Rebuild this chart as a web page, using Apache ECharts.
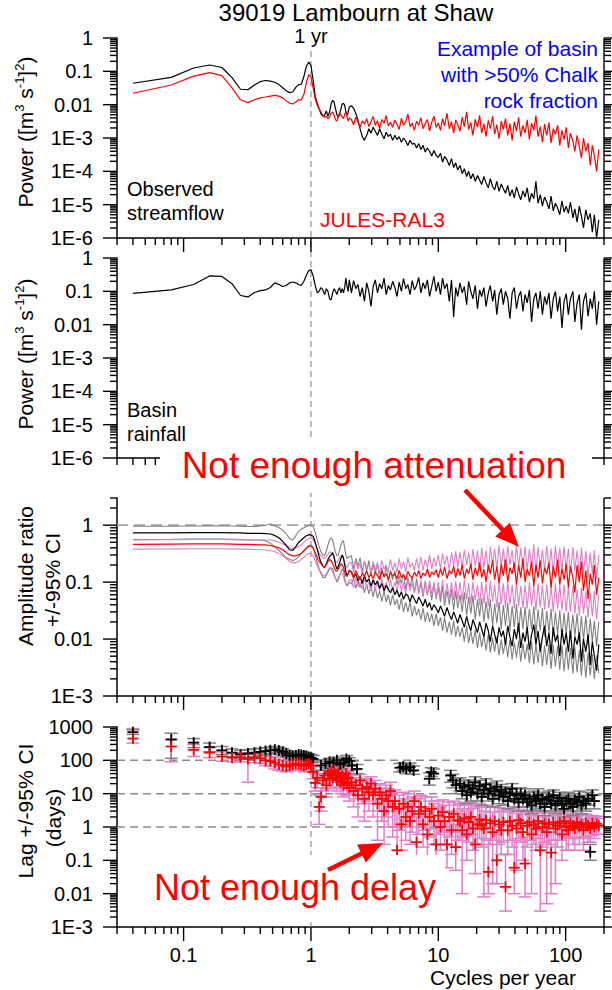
<!DOCTYPE html>
<html>
<head>
<meta charset="utf-8">
<script src="https://cdn.jsdelivr.net/npm/echarts@6/dist/echarts.min.js"></script>
<style>
  html, body { margin: 0; padding: 0; background: #fff; }
  #chart { width: 612px; height: 990px; }
</style>
</head>
<body>
<div id="chart"></div>
<script>
// ---------------------------------------------------------------------------
// Spectral data, 39019 Lambourn at Shaw (frequency in cycles per year)
// ---------------------------------------------------------------------------
const FREQ = [
  0.04, 0.08, 0.12, 0.16, 0.2, 0.24, 0.28, 0.32, 0.36, 0.4,
  0.44, 0.48, 0.52, 0.56, 0.6, 0.64, 0.68, 0.72, 0.76, 0.8,
  0.84, 0.88, 0.92, 0.96, 1.0, 1.04, 1.08, 1.12, 1.16, 1.2,
  1.24, 1.28, 1.32, 1.36, 1.4, 1.44, 1.48, 1.52, 1.56, 1.6,
  1.64, 1.68, 1.72, 1.76, 1.8, 1.84, 1.88, 1.92, 1.96, 2.0,
  2.08, 2.16, 2.25, 2.34, 2.43, 2.53, 2.63, 2.74, 2.85, 2.96,
  3.08, 3.2, 3.33, 3.46, 3.6, 3.75, 3.9, 4.05, 4.21, 4.38,
  4.56, 4.74, 4.93, 5.13, 5.33, 5.55, 5.77, 6.0, 6.24, 6.49,
  6.75, 7.02, 7.3, 7.59, 7.9, 8.21, 8.54, 8.88, 9.24, 9.61,
  10.0, 10.4, 10.8, 11.2, 11.7, 12.2, 12.7, 13.2, 13.7, 14.2,
  14.8, 15.4, 16.0, 16.7, 17.3, 18.0, 18.7, 19.5, 20.3, 21.1,
  21.9, 22.8, 23.7, 24.7, 25.6, 26.7, 27.7, 28.8, 30.0, 31.2,
  32.4, 33.7, 35.1, 36.5, 38.0, 39.5, 41.1, 42.7, 44.4, 46.2,
  48.0, 49.9, 51.9, 54.0, 56.2, 58.4, 60.7, 63.2, 65.7, 68.3,
  71.0, 73.9, 76.8, 79.9, 83.1, 86.4, 89.9, 93.5, 97.2, 101,
  105, 109, 114, 118, 123, 128, 133, 138, 144, 150,
  156, 162, 168, 175, 182
];

// Power of observed streamflow
const OBS_POWER = [
  0.044, 0.066, 0.126, 0.155, 0.13, 0.065, 0.029, 0.028, 0.039, 0.049,
  0.053, 0.051, 0.047, 0.04, 0.032, 0.026, 0.023, 0.024, 0.033, 0.04,
  0.041, 0.07, 0.14, 0.19, 0.15, 0.055, 0.018, 0.011, 0.0075, 0.0052,
  0.0045, 0.0048, 0.0065, 0.0045, 0.006, 0.0105, 0.0135, 0.012, 0.0075, 0.005,
  0.0042, 0.0055, 0.0075, 0.0105, 0.011, 0.0095, 0.0062, 0.0048, 0.006, 0.0085,
  0.0092, 0.0078, 0.0055, 0.0034, 0.0019, 0.0011, 0.00085, 0.0012, 0.0019, 0.0014,
  0.0021, 0.0016, 0.0012, 0.0019, 0.0013, 0.00095, 0.0015, 0.0011, 0.0013, 0.00085,
  0.0012, 0.0009, 0.0011, 0.00075, 0.001, 0.0008, 0.0006, 0.00085, 0.00065, 0.0007,
  0.0005, 0.00068, 0.00045, 0.0006, 0.00038, 0.0005, 0.0004, 0.00029, 0.00042, 0.0003,
  2.6e-4, 3.5e-4, 1.9e-4, 2.8e-4, 2.2e-4, 1.5e-4, 2.4e-4, 1.3e-4, 1.8e-4, 1.1e-4,
  1.5e-4, 8.5e-5, 1.2e-4, 7e-5, 1e-4, 6e-5, 8.5e-5, 5e-5, 7.5e-5, 5.5e-5,
  4e-5, 7e-5, 4.5e-5, 3.2e-5, 6e-5, 3.5e-5, 2.8e-5, 5e-5, 2.5e-5, 4.2e-5,
  3e-5, 2.2e-5, 3.8e-5, 1.8e-5, 2.8e-5, 1.6e-5, 3.4e-5, 2.1e-5, 1.4e-5, 2.6e-5,
  1.7e-5, 3.2e-5, 1.2e-5, 2.2e-5, 1.5e-5, 5e-5, 1.1e-5, 2e-5, 9e-6, 1.7e-5,
  1.2e-5, 7.5e-6, 1.8e-5, 6.5e-6, 1.1e-5, 8e-6, 5e-6, 1.3e-5, 6e-6, 9e-6,
  5.5e-6, 1.2e-5, 4e-6, 7.5e-6, 3e-6, 9e-6, 4.5e-6, 2e-6, 7e-6, 3.5e-6,
  5.5e-6, 1.5e-6, 5e-6, 1e-6, 3.5e-6
];

// Power of JULES-RAL3 simulated streamflow
const SIM_POWER = [
  0.022, 0.039, 0.072, 0.091, 0.074, 0.032, 0.014, 0.0115, 0.014, 0.016,
  0.017, 0.018, 0.019, 0.018, 0.016, 0.013, 0.011, 0.0105, 0.012, 0.014,
  0.014, 0.02, 0.045, 0.08, 0.068, 0.032, 0.015, 0.0095, 0.0075, 0.006,
  0.0048, 0.0042, 0.0045, 0.0038, 0.0042, 0.0055, 0.006, 0.0048, 0.0035, 0.0032,
  0.0045, 0.0058, 0.005, 0.0042, 0.0038, 0.0052, 0.006, 0.0045, 0.0032, 0.004,
  0.0036, 0.0025, 0.0042, 0.003, 0.0021, 0.0033, 0.0026, 0.0038, 0.0022, 0.0031,
  0.0044, 0.0024, 0.0033, 0.0019, 0.0036, 0.0028, 0.0047, 0.0023, 0.003, 0.0021,
  0.0034, 0.0026, 0.0018, 0.0039, 0.0024, 0.0031, 0.0052, 0.0022, 0.0028, 0.0017,
  0.0032, 0.0024, 0.0041, 0.0019, 0.0027, 0.0036, 0.0016, 0.003, 0.0045, 0.0021,
  0.0028, 0.0017, 0.0038, 0.0023, 0.0055, 0.0019, 0.0031, 0.0014, 0.0035, 0.0025,
  0.0016, 0.0042, 0.0022, 0.0061, 0.0018, 0.0029, 0.0012, 0.0036, 0.0021, 0.0048,
  0.0014, 0.0027, 0.0011, 0.0034, 0.0019, 0.0045, 0.0013, 0.0025, 0.00095, 0.0032,
  0.0018, 0.0038, 0.0012, 0.0027, 0.00085, 0.0031, 0.0016, 0.0042, 0.0011, 0.0024,
  0.0014, 0.0035, 0.0009, 0.0028, 0.0017, 0.0047, 0.0011, 0.0022, 0.00075, 0.0026,
  0.0012, 0.0029, 0.0007, 0.0019, 0.0013, 0.0024, 0.0006, 0.0017, 0.0009, 0.0021,
  0.0005, 0.0014, 0.0008, 0.0004, 0.0012, 0.00055, 0.00025, 0.001, 0.0004, 0.0007,
  0.00015, 0.0006, 0.0003, 0.0001, 0.00045
];

// Power of basin rainfall
const RAIN_POWER = [
  0.087, 0.11, 0.16, 0.29, 0.28, 0.17, 0.075, 0.068, 0.092, 0.105,
  0.11, 0.13, 0.18, 0.16, 0.14, 0.15, 0.18, 0.19, 0.18, 0.16,
  0.15, 0.2, 0.3, 0.42, 0.44, 0.3, 0.15, 0.09, 0.1, 0.13,
  0.11, 0.08, 0.12, 0.1, 0.06, 0.055, 0.09, 0.12, 0.1, 0.08,
  0.11, 0.13, 0.09, 0.12, 0.09, 0.13, 0.25, 0.14, 0.1, 0.22,
  0.09, 0.21, 0.12, 0.16, 0.07, 0.13, 0.05, 0.18, 0.1, 0.035,
  0.14, 0.22, 0.09, 0.17, 0.12, 0.25, 0.08, 0.15, 0.11, 0.2,
  0.13, 0.07, 0.19, 0.1, 0.24, 0.12, 0.16, 0.08, 0.21, 0.11,
  0.15, 0.26, 0.09, 0.18, 0.12, 0.22, 0.07, 0.14, 0.28, 0.1,
  0.19, 0.08, 0.25, 0.12, 0.17, 0.05, 0.22, 0.017, 0.13, 0.07,
  0.18, 0.09, 0.14, 0.04, 0.2, 0.1, 0.06, 0.15, 0.03, 0.11,
  0.07, 0.13, 0.035, 0.09, 0.15, 0.05, 0.11, 0.02, 0.08, 0.12,
  0.04, 0.1, 0.06, 0.015, 0.09, 0.13, 0.03, 0.07, 0.1, 0.025,
  0.08, 0.045, 0.11, 0.012, 0.06, 0.09, 0.03, 0.1, 0.02, 0.07,
  0.04, 0.09, 0.015, 0.06, 0.1, 0.025, 0.07, 0.008, 0.05, 0.085,
  0.02, 0.06, 0.1, 0.012, 0.045, 0.08, 0.007, 0.05, 0.09, 0.018,
  0.06, 0.03, 0.1, 0.01, 0.05
];

// Amplitude ratio (streamflow / rainfall) of observations with 95% CI
const OBS_RATIO = [
  0.73, 0.735, 0.74, 0.74, 0.74, 0.735, 0.73, 0.72, 0.72, 0.72,
  0.71, 0.7, 0.66, 0.6, 0.52, 0.44, 0.37, 0.36, 0.42, 0.5,
  0.55, 0.6, 0.65, 0.68, 0.67, 0.64, 0.5, 0.38, 0.28, 0.22,
  0.19, 0.18, 0.21, 0.25, 0.28, 0.3, 0.33, 0.28, 0.2, 0.17,
  0.19, 0.22, 0.26, 0.3, 0.27, 0.2, 0.15, 0.13, 0.14, 0.16,
  0.15, 0.12, 0.14, 0.105, 0.125, 0.095, 0.13, 0.1, 0.115, 0.085,
  0.11, 0.09, 0.105, 0.078, 0.095, 0.07, 0.088, 0.075, 0.065, 0.08,
  0.06, 0.072, 0.055, 0.068, 0.05, 0.062, 0.058, 0.045, 0.06, 0.05,
  0.042, 0.055, 0.046, 0.038, 0.05, 0.036, 0.044, 0.032, 0.04, 0.035,
  0.029, 0.038, 0.031, 0.025, 0.036, 0.027, 0.022, 0.03, 0.024, 0.019,
  0.027, 0.021, 0.016, 0.025, 0.018, 0.014, 0.022, 0.017, 0.013, 0.02,
  0.015, 0.011, 0.019, 0.014, 0.009, 0.017, 0.012, 0.0085, 0.016, 0.011,
  0.014, 0.008, 0.017, 0.011, 0.0075, 0.015, 0.01, 0.019, 0.007, 0.013,
  0.009, 0.016, 0.0065, 0.012, 0.018, 0.008, 0.014, 0.006, 0.011, 0.017,
  0.0075, 0.013, 0.0055, 0.016, 0.009, 0.012, 0.005, 0.015, 0.008, 0.013,
  0.006, 0.014, 0.0045, 0.011, 0.008, 0.013, 0.004, 0.01, 0.006, 0.012,
  0.0035, 0.009, 0.005, 0.0028, 0.008
];
const OBS_RATIO_HI = [
  0.96, 0.96, 0.965, 0.97, 0.97, 0.965, 0.96, 0.95, 0.95, 0.97,
  1.0, 1.05, 0.98, 0.9, 0.82, 0.7, 0.58, 0.55, 0.65, 0.78,
  0.85, 0.9, 0.95, 0.98, 1.02, 0.95, 0.75, 0.55, 0.42, 0.34,
  0.3, 0.29, 0.35, 0.45, 0.55, 0.6, 0.55, 0.42, 0.33, 0.29,
  0.3, 0.36, 0.45, 0.52, 0.53, 0.4, 0.3, 0.26, 0.27, 0.28,
  0.29, 0.17, 0.26, 0.19, 0.27, 0.15, 0.23, 0.16, 0.24, 0.13,
  0.21, 0.14, 0.22, 0.11, 0.18, 0.12, 0.2, 0.1, 0.16, 0.11,
  0.16, 0.09, 0.13, 0.095, 0.14, 0.075, 0.12, 0.08, 0.125, 0.065,
  0.115, 0.065, 0.1, 0.055, 0.105, 0.06, 0.09, 0.048, 0.095, 0.05,
  0.08, 0.045, 0.085, 0.038, 0.072, 0.04, 0.075, 0.032, 0.07, 0.035,
  0.06, 0.03, 0.066, 0.026, 0.055, 0.028, 0.058, 0.022, 0.05, 0.025,
  0.052, 0.02, 0.046, 0.022, 0.05, 0.017, 0.042, 0.019, 0.045, 0.015,
  0.04, 0.017, 0.043, 0.014, 0.038, 0.016, 0.041, 0.013, 0.036, 0.015,
  0.037, 0.013, 0.034, 0.015, 0.038, 0.012, 0.033, 0.014, 0.035, 0.011,
  0.031, 0.013, 0.034, 0.011, 0.03, 0.012, 0.032, 0.0105, 0.029, 0.012,
  0.03, 0.01, 0.027, 0.011, 0.028, 0.009, 0.025, 0.0095, 0.026, 0.008,
  0.023, 0.009, 0.021, 0.0075, 0.02
];
const OBS_RATIO_LO = [
  0.56, 0.565, 0.57, 0.57, 0.57, 0.565, 0.56, 0.55, 0.55, 0.55,
  0.53, 0.48, 0.42, 0.36, 0.31, 0.27, 0.25, 0.24, 0.25, 0.28,
  0.32, 0.36, 0.4, 0.44, 0.45, 0.4, 0.3, 0.22, 0.17, 0.14,
  0.12, 0.12, 0.13, 0.15, 0.17, 0.18, 0.17, 0.14, 0.115, 0.1,
  0.11, 0.13, 0.15, 0.17, 0.16, 0.12, 0.095, 0.085, 0.09, 0.1,
  0.092, 0.12, 0.078, 0.105, 0.08, 0.11, 0.065, 0.09, 0.062, 0.088,
  0.055, 0.082, 0.052, 0.07, 0.046, 0.071, 0.045, 0.06, 0.039, 0.06,
  0.04, 0.05, 0.033, 0.052, 0.03, 0.044, 0.03, 0.045, 0.025, 0.038,
  0.026, 0.034, 0.022, 0.035, 0.02, 0.03, 0.02, 0.028, 0.017, 0.028,
  0.017, 0.024, 0.014, 0.024, 0.013, 0.02, 0.012, 0.021, 0.011, 0.017,
  0.011, 0.016, 0.009, 0.017, 0.0085, 0.014, 0.0082, 0.0145, 0.007, 0.013,
  0.0072, 0.0118, 0.0063, 0.012, 0.0058, 0.0105, 0.006, 0.011, 0.0052, 0.0098,
  0.0055, 0.0095, 0.0048, 0.0098, 0.0044, 0.0088, 0.0047, 0.0094, 0.004, 0.0085,
  0.0044, 0.0082, 0.0038, 0.009, 0.0036, 0.008, 0.0038, 0.0086, 0.0033, 0.0078,
  0.0035, 0.008, 0.003, 0.0079, 0.0033, 0.0076, 0.0029, 0.0078, 0.0027, 0.0074,
  0.0029, 0.007, 0.0025, 0.0072, 0.0026, 0.0064, 0.0023, 0.0066, 0.0021, 0.0058,
  0.0023, 0.0054, 0.002, 0.0052, 0.0025
];

// Amplitude ratio of JULES-RAL3 with 95% CI
const SIM_RATIO = [
  0.46, 0.465, 0.47, 0.47, 0.47, 0.465, 0.46, 0.46, 0.455, 0.45,
  0.45, 0.44, 0.42, 0.4, 0.37, 0.33, 0.3, 0.29, 0.29, 0.3,
  0.32, 0.35, 0.39, 0.42, 0.43, 0.4, 0.33, 0.27, 0.23, 0.21,
  0.19, 0.185, 0.2, 0.23, 0.25, 0.24, 0.21, 0.18, 0.16, 0.155,
  0.17, 0.19, 0.21, 0.2, 0.18, 0.15, 0.13, 0.125, 0.14, 0.16,
  0.15, 0.12, 0.16, 0.13, 0.11, 0.145, 0.125, 0.16, 0.12, 0.14,
  0.115, 0.15, 0.13, 0.11, 0.155, 0.125, 0.14, 0.112, 0.15, 0.128,
  0.14, 0.115, 0.16, 0.12, 0.135, 0.11, 0.155, 0.13, 0.118, 0.15,
  0.125, 0.16, 0.115, 0.145, 0.13, 0.17, 0.12, 0.15, 0.135, 0.165,
  0.12, 0.17, 0.13, 0.185, 0.115, 0.16, 0.14, 0.19, 0.12, 0.175,
  0.13, 0.2, 0.115, 0.17, 0.14, 0.21, 0.11, 0.18, 0.13, 0.22,
  0.12, 0.17, 0.1, 0.2, 0.14, 0.24, 0.11, 0.19, 0.095, 0.21,
  0.13, 0.25, 0.1, 0.18, 0.14, 0.22, 0.09, 0.2, 0.12, 0.26,
  0.1, 0.17, 0.13, 0.23, 0.085, 0.2, 0.12, 0.24, 0.095, 0.18,
  0.14, 0.22, 0.08, 0.19, 0.12, 0.25, 0.09, 0.17, 0.11, 0.21,
  0.08, 0.19, 0.12, 0.065, 0.2, 0.1, 0.23, 0.07, 0.16, 0.05,
  0.14, 0.09, 0.2, 0.06, 0.12
];
const SIM_RATIO_HI = [
  0.55, 0.555, 0.56, 0.56, 0.56, 0.555, 0.55, 0.55, 0.55, 0.55,
  0.55, 0.55, 0.53, 0.5, 0.47, 0.43, 0.4, 0.39, 0.4, 0.42,
  0.45, 0.5, 0.55, 0.58, 0.6, 0.56, 0.47, 0.38, 0.32, 0.29,
  0.27, 0.26, 0.28, 0.31, 0.34, 0.33, 0.3, 0.26, 0.23, 0.22,
  0.24, 0.27, 0.29, 0.28, 0.25, 0.22, 0.19, 0.18, 0.2, 0.22,
  0.22, 0.15, 0.24, 0.17, 0.21, 0.14, 0.23, 0.18, 0.2, 0.15,
  0.23, 0.16, 0.21, 0.14, 0.24, 0.17, 0.2, 0.15, 0.25, 0.16,
  0.22, 0.15, 0.26, 0.17, 0.23, 0.15, 0.27, 0.18, 0.22, 0.16,
  0.26, 0.17, 0.28, 0.16, 0.25, 0.18, 0.3, 0.17, 0.27, 0.19,
  0.3, 0.17, 0.32, 0.2, 0.29, 0.16, 0.33, 0.19, 0.35, 0.18,
  0.34, 0.18, 0.37, 0.2, 0.33, 0.17, 0.38, 0.19, 0.36, 0.16,
  0.4, 0.18, 0.36, 0.15, 0.42, 0.2, 0.38, 0.17, 0.44, 0.19,
  0.39, 0.16, 0.43, 0.2, 0.37, 0.15, 0.45, 0.18, 0.4, 0.17,
  0.42, 0.16, 0.38, 0.19, 0.46, 0.15, 0.41, 0.18, 0.37, 0.16,
  0.43, 0.17, 0.39, 0.14, 0.44, 0.18, 0.4, 0.15, 0.42, 0.17,
  0.38, 0.14, 0.41, 0.16, 0.36, 0.13, 0.4, 0.15, 0.35, 0.12,
  0.33, 0.14, 0.36, 0.11, 0.3
];
const SIM_RATIO_LO = [
  0.38, 0.383, 0.386, 0.386, 0.386, 0.383, 0.38, 0.38, 0.375, 0.37,
  0.37, 0.36, 0.34, 0.32, 0.29, 0.26, 0.23, 0.22, 0.22, 0.23,
  0.25, 0.27, 0.3, 0.32, 0.32, 0.29, 0.24, 0.19, 0.16, 0.15,
  0.13, 0.13, 0.14, 0.16, 0.18, 0.17, 0.15, 0.13, 0.115, 0.11,
  0.12, 0.135, 0.15, 0.14, 0.125, 0.105, 0.09, 0.088, 0.098, 0.11,
  0.11, 0.08, 0.12, 0.085, 0.1, 0.075, 0.115, 0.08, 0.1, 0.07,
  0.11, 0.075, 0.1, 0.07, 0.115, 0.078, 0.1, 0.068, 0.11, 0.072,
  0.1, 0.068, 0.11, 0.07, 0.1, 0.062, 0.11, 0.07, 0.095, 0.065,
  0.1, 0.062, 0.11, 0.06, 0.095, 0.058, 0.105, 0.06, 0.1, 0.055,
  0.1, 0.055, 0.11, 0.05, 0.095, 0.052, 0.1, 0.048, 0.105, 0.05,
  0.1, 0.046, 0.11, 0.05, 0.095, 0.042, 0.1, 0.048, 0.09, 0.04,
  0.1, 0.042, 0.095, 0.038, 0.105, 0.045, 0.09, 0.036, 0.1, 0.04,
  0.095, 0.036, 0.1, 0.04, 0.09, 0.034, 0.1, 0.038, 0.085, 0.035,
  0.09, 0.034, 0.1, 0.038, 0.085, 0.032, 0.095, 0.036, 0.09, 0.033,
  0.09, 0.035, 0.085, 0.03, 0.095, 0.034, 0.088, 0.032, 0.09, 0.03,
  0.08, 0.03, 0.085, 0.028, 0.075, 0.026, 0.08, 0.028, 0.07, 0.024,
  0.065, 0.025, 0.07, 0.022, 0.06
];

// Lag (days) of observed streamflow behind rainfall, with 95% CI
const LAG_OBS_FREQ = [
  0.04, 0.08, 0.12, 0.16, 0.2, 0.24, 0.28, 0.32, 0.36, 0.4,
  0.44, 0.48, 0.52, 0.56, 0.6, 0.64, 0.68, 0.72, 0.76, 0.8,
  0.84, 0.88, 0.92, 0.96, 1.0, 1.04,
  1.2, 1.3, 1.4, 1.5, 1.6, 1.7, 1.8, 1.9, 2.0, 2.1, 2.3,
  5.0, 5.3, 5.6, 6.0, 6.4,
  8.5, 8.8, 9.2,
  12.5, 13.0, 13.8,
  14.8, 15.4, 16.0, 16.7, 17.3, 18.0, 18.7, 19.5, 20.3, 21.1,
  21.9, 22.8, 23.7, 24.7, 25.6, 26.7, 27.7, 28.8, 30.0, 31.2,
  32.4, 33.7, 35.1, 36.5, 38.0, 39.5, 41.1, 42.7, 44.4, 46.2,
  48.0, 49.9, 51.9, 54.0, 56.2, 58.4, 60.7, 63.2, 65.7, 68.3,
  71.0, 73.9, 76.8, 79.9, 83.1, 86.4, 89.9, 93.5, 97.2, 101,
  105, 109, 114, 118, 123, 128, 133, 138, 144, 150,
  156, 162, 168
];
const LAG_OBS = [
  700, 420, 340, 250, 200, 170, 150, 160, 170, 180,
  190, 200, 210, 195, 180, 160, 140, 135, 140, 150,
  145, 140, 135, 125, 120, 110,
  70, 80, 90, 85, 100, 75, 85, 110, 95, 70, 55,
  60, 65, 55, 62, 50,
  28, 45, 40,
  35, 25, 18,
  20, 12, 16, 9, 18, 11, 14, 22, 10, 17,
  8, 13, 19, 10, 14, 7, 12, 16, 9, 13,
  8, 11, 6, 10, 14, 7, 9, 5.5, 10, 7,
  9, 5.5, 7, 4.5, 8, 6, 9, 5, 7, 4,
  6.5, 8, 5, 9, 4.5, 6, 7.5, 5, 3.5, 6,
  7, 5, 4, 6.5, 5.5, 8, 4.5, 6, 5, 7,
  0.18, 9, 6
];
const LAG_OBS_LO = [
  600, 115, 240, 180, 150, 130, 110, 120, 130, 140,
  150, 160, 170, 155, 140, 125, 110, 105, 110, 120,
  115, 112, 110, 100, 95, 85,
  50, 60, 70, 65, 80, 55, 65, 85, 70, 50, 40,
  45, 50, 40, 47, 38,
  18, 33, 28,
  22, 15, 10,
  12, 7, 10, 5, 12, 6, 9, 15, 6, 11,
  4.5, 8, 12, 6, 9, 4, 7, 10, 5, 8,
  4.5, 6.5, 3.5, 6, 9, 4, 5.5, 3, 6, 4,
  5.5, 3, 4, 2.5, 5, 3.5, 5.5, 3, 4, 2.2,
  4, 5, 3, 5.5, 2.5, 3.5, 4.5, 3, 2, 3.5,
  4.5, 3, 2.2, 4, 3, 5, 2.5, 3.5, 3, 4.5,
  0.1, 6, 3.5
];
const LAG_OBS_HI = [
  820, 650, 450, 330, 260, 220, 200, 210, 220, 230,
  240, 250, 260, 245, 225, 200, 180, 170, 175, 185,
  180, 172, 165, 155, 150, 140,
  95, 105, 115, 110, 125, 100, 110, 140, 120, 95, 75,
  80, 85, 75, 82, 68,
  42, 60, 55,
  50, 38, 28,
  30, 18, 24, 14, 26, 17, 21, 32, 15, 25,
  12, 19, 28, 15, 21, 11, 18, 24, 14, 19,
  12, 16, 9, 15, 20, 11, 14, 8.5, 15, 11,
  14, 8.5, 11, 7, 12, 9, 14, 8, 11, 6.5,
  10, 12, 8, 13, 7, 9, 11, 8, 5.5, 9,
  11, 8, 6.5, 10, 8.5, 12, 7, 9, 8, 11,
  0.3, 13, 9
];

// Lag (days) of JULES-RAL3 streamflow behind rainfall, with 95% CI (on FREQ)
const LAG_SIM = [
  450, 260, 205, 170, 130, 120, 125, 110, 120, 115,
  100, 95, 85, 75, 70, 65, 70, 75, 80, 78,
  72, 68, 75, 80, 70, 45, 21, 30, 4, 8,
  25, 35, 18, 40, 28, 45, 30, 50, 38, 25,
  42, 30, 22, 35, 18, 28, 40, 20, 30, 15,
  22, 12, 18, 9, 25, 14, 7, 16, 11, 20,
  9, 14, 5, 11, 7, 3, 9, 6, 12, 4,
  6, 0.2, 3.5, 1.2, 5, 2, 4, 1.5, 3, 6,
  0.35, 2.5, 4, 1.2, 3, 0.6, 2, 3.5, 1.5, 0.3,
  2.2, 1, 2.8, 1.5, 0.3, 2, 0.8, 2.5, 0.25, 1.6,
  1.5, 0.8, 1.8, 0.6, 1.4, 2, 0.9, 0.3, 1.2, 1.7,
  1.1, 0.9, 1.6, 0.045, 1.3, 0.7, 1.5, 0.1, 1.2, 0.8,
  1.4, 0.016, 0.8, 1.5, 1.1, 0.06, 0.9, 1.6, 1.3, 0.7,
  0.08, 1.1, 1.4, 0.6, 1.2, 0.9, 1.5, 0.2, 1, 1.3,
  0.7, 1.2, 0.17, 1.4, 0.9, 1.1, 1.3, 0.6, 1.5, 1,
  0.8, 1.3, 1.1, 0.9, 1.4, 1, 1.2, 0.8, 1.3, 1.1,
  0.9, 1.3, 1.0, 1.25, 1.1
];
const LAG_SIM_LO = [
  330, 90, 130, 120, 95, 90, 90, 22, 85, 80,
  70, 65, 55, 50, 48, 45, 48, 52, 55, 55,
  50, 45, 52, 55, 45, 28, 12, 15, 1.2, 3,
  12, 20, 8, 25, 14, 30, 16, 33, 22, 12,
  26, 15, 10, 20, 8, 14, 24, 9, 15, 6,
  10, 4, 7, 2, 12, 5, 1.5, 6, 3, 9,
  2, 5, 0.4, 3, 1.5, 0.3, 2, 1, 4, 0.5,
  1, 0.1, 0.8, 0.2, 1, 0.4, 1, 0.3, 0.7, 1.5,
  0.08, 0.6, 1, 0.25, 0.8, 0.1, 0.5, 0.9, 0.3, 0.06,
  0.6, 0.2, 0.7, 0.3, 0.06, 0.5, 0.15, 0.7, 0.05, 0.4,
  0.4, 0.01, 0.5, 0.1, 0.35, 0.6, 0.2, 0.04, 0.3, 0.45,
  0.25, 0.008, 0.45, 0.01, 0.3, 0.02, 0.4, 0.02, 0.3, 0.15,
  0.35, 0.003, 0.15, 0.4, 0.25, 0.01, 0.05, 0.45, 0.35, 0.1,
  0.008, 0.25, 0.4, 0.01, 0.3, 0.2, 0.45, 0.003, 0.25, 0.35,
  0.005, 0.3, 0.01, 0.4, 0.02, 0.25, 0.4, 0.1, 0.5, 0.2,
  0.2, 0.45, 0.3, 0.2, 0.5, 0.3, 0.45, 0.2, 0.5, 0.35,
  0.35, 0.55, 0.45, 0.6, 0.6
];
const LAG_SIM_HI = [
  900, 430, 300, 240, 180, 160, 170, 150, 160, 155,
  140, 130, 120, 105, 100, 95, 100, 105, 110, 108,
  100, 95, 105, 110, 100, 65, 40, 50, 9, 15,
  40, 52, 30, 58, 45, 62, 46, 70, 55, 40,
  60, 46, 36, 52, 32, 44, 58, 34, 46, 28,
  36, 22, 30, 18, 38, 25, 15, 28, 22, 32,
  18, 25, 12, 20, 15, 9, 18, 14, 22, 11,
  13, 3, 9, 5, 11, 7, 10, 5, 8, 12,
  2, 7, 9, 4, 8, 2.5, 6, 8, 5, 1.5,
  6, 4, 6.5, 4.5, 1.5, 5.5, 3, 6, 1.2, 4.5,
  5, 3.5, 5.5, 3, 4.5, 5.5, 3.5, 1.5, 4, 5,
  4, 3, 4.5, 0.4, 4, 2.8, 4.2, 0.6, 3.8, 3,
  3.5, 0.15, 2.8, 3.6, 3.2, 0.4, 2.6, 3.8, 3.2, 2.4,
  0.5, 2.8, 3.2, 2.2, 3, 2.6, 3.2, 0.8, 2.6, 3,
  2, 2.8, 0.7, 3, 2.2, 2.6, 2.8, 1.8, 3, 2.4,
  2, 2.6, 2.4, 2, 2.6, 2.2, 2.4, 1.8, 2.4, 2.2,
  1.8, 2.2, 2, 2.1, 1.8
];

// Reference levels
const ANNUAL_FREQ = 1;
const RATIO_UNITY = [1];
const LAG_GUIDES = [100, 10, 1];

// ---------------------------------------------------------------------------
// Layout and styling
// ---------------------------------------------------------------------------
const FONT = '"Liberation Sans", Arial, Helvetica, sans-serif';
const X_MIN = 0.03, X_MAX = 200;
const PANELS = [
  { top: 38,  height: 200, yMin: 1e-6, yMax: 1 },
  { top: 258, height: 200, yMin: 1e-6, yMax: 1 },
  { top: 498, height: 198, yMin: 1e-3, yMax: 3 },
  { top: 727, height: 200, yMin: 1e-3, yMax: 1000 }
];
const C_BLACK = '#000000', C_GREY = '#808080', C_RED = '#ff0000', C_PINK = '#e07fc8';

function decadeLabel(v) {
  const e = Math.log10(v), r = Math.round(e);
  if (Math.abs(e - r) > 1e-6) return '';
  if (r >= 0) return String(Math.round(Math.pow(10, r)));
  if (r === -1) return '0.1';
  if (r === -2) return '0.01';
  return '1E' + r;
}

function logTicks(lo, hi) {
  const out = [];
  for (let k = Math.floor(Math.log10(lo)) - 1; k <= Math.ceil(Math.log10(hi)); k++) {
    for (let d = 1; d <= 9; d++) {
      const v = d * Math.pow(10, k);
      if (v >= lo * 0.999 && v <= hi * 1.001) out.push({ v: v, major: d === 1 });
    }
  }
  return out;
}

function pairs(xs, ys) { return xs.map((x, i) => [x, ys[i]]); }

function lineSeries(grid, xs, ys, color, width, z) {
  return {
    type: 'line', xAxisIndex: grid, yAxisIndex: grid,
    data: pairs(xs, ys), showSymbol: false, symbol: 'none',
    lineStyle: { color: color, width: width }, z: z,
    silent: true, animation: false
  };
}

// frame: right-hand axis line plus outward ticks on the drawn sides
function frameSeries(i) {
  const p = PANELS[i];
  const xt = logTicks(X_MIN, X_MAX), yt = logTicks(p.yMin, p.yMax);
  return {
    type: 'custom', xAxisIndex: i, yAxisIndex: i, data: [[1, p.yMin]],
    clip: false, silent: true, z: 6, animation: false,
    renderItem: function (params, api) {
      const kids = [];
      const st = { stroke: '#000', lineWidth: 1.4 };
      const rb = api.coord([X_MAX, p.yMin]), rt = api.coord([X_MAX, p.yMax]);
      kids.push({ type: 'line', shape: { x1: rb[0], y1: rb[1] + 0.7, x2: rt[0], y2: rt[1] }, style: st });
      xt.forEach(t => {
        const q = api.coord([t.v, p.yMin]);
        const len = t.major ? 14 : 7;
        kids.push({ type: 'line', shape: { x1: q[0], y1: q[1], x2: q[0], y2: q[1] + len }, style: st });
      });
      yt.forEach(t => {
        const l = api.coord([X_MIN, t.v]), r = api.coord([X_MAX, t.v]);
        const len = t.major ? 14 : 7;
        kids.push({ type: 'line', shape: { x1: l[0] - len, y1: l[1], x2: l[0], y2: l[1] }, style: st });
        kids.push({ type: 'line', shape: { x1: r[0], y1: r[1], x2: r[0] + len, y2: r[1] }, style: st });
      });
      return { type: 'group', children: kids };
    }
  };
}

// horizontal dashed guide lines across a panel
function guideSeries(i, levels, dash, color, width) {
  return {
    type: 'custom', xAxisIndex: i, yAxisIndex: i,
    data: levels.map(v => [1, v]), silent: true, z: 1, animation: false,
    renderItem: function (params, api) {
      const a = api.coord([X_MIN, api.value(1)]), b = api.coord([X_MAX, api.value(1)]);
      return { type: 'line', shape: { x1: a[0], y1: a[1], x2: b[0], y2: b[1] },
               style: { stroke: color, lineWidth: width, lineDash: dash } };
    }
  };
}

// vertical dashed line at one cycle per year, running up through all panels
function annualSeries() {
  return {
    type: 'custom', xAxisIndex: 3, yAxisIndex: 3,
    data: [[ANNUAL_FREQ, PANELS[3].yMin]], clip: false, silent: true, z: 1, animation: false,
    renderItem: function (params, api) {
      const b = api.coord([api.value(0), api.value(1)]);
      return { type: 'line', shape: { x1: b[0], y1: b[1], x2: b[0], y2: 47 },
               style: { stroke: '#9a9a9a', lineWidth: 1.3, lineDash: [6, 4] } };
    }
  };
}

function lagData(f, v, lo, hi) { return f.map((x, i) => [x, v[i], lo[i], hi[i]]); }

function errorBarSeries(data, color, z) {
  return {
    type: 'custom', xAxisIndex: 3, yAxisIndex: 3, data: data,
    dimensions: ['f', 'lag', 'lo', 'hi'], encode: { x: 0, y: 1 },
    clip: false, silent: true, z: z, animation: false,
    renderItem: function (params, api) {
      const f = api.value(0);
      const lo = api.coord([f, api.value(2)]), hi = api.coord([f, api.value(3)]);
      const st = { stroke: color, lineWidth: 1.5 };
      const w = 6.5;
      return { type: 'group', children: [
        { type: 'line', shape: { x1: lo[0], y1: lo[1], x2: hi[0], y2: hi[1] }, style: st },
        { type: 'line', shape: { x1: lo[0] - w, y1: lo[1], x2: lo[0] + w, y2: lo[1] }, style: st },
        { type: 'line', shape: { x1: hi[0] - w, y1: hi[1], x2: hi[0] + w, y2: hi[1] }, style: st }
      ] };
    }
  };
}

function crossSeries(data, color, z) {
  return {
    type: 'custom', xAxisIndex: 3, yAxisIndex: 3, data: data,
    dimensions: ['f', 'lag', 'lo', 'hi'], encode: { x: 0, y: 1 },
    clip: false, silent: true, z: z, animation: false,
    renderItem: function (params, api) {
      const c = api.coord([api.value(0), api.value(1)]);
      const st = { stroke: color, lineWidth: 1.8 };
      const s = 5.5;
      return { type: 'group', children: [
        { type: 'line', shape: { x1: c[0] - s, y1: c[1], x2: c[0] + s, y2: c[1] }, style: st },
        { type: 'line', shape: { x1: c[0], y1: c[1] - s, x2: c[0], y2: c[1] + s }, style: st }
      ] };
    }
  };
}

// ---------------------------------------------------------------------------
// Annotation helpers
// ---------------------------------------------------------------------------
function label(text, x, y, size, color, align, rot) {
  return {
    type: 'text', x: x, y: y, rotation: rot || 0, z: 100, silent: true,
    style: {
      text: text, fill: color || '#000', fontSize: size, fontFamily: FONT,
      textAlign: align || 'center', align: align || 'center',
      textVerticalAlign: 'middle', verticalAlign: 'middle'
    }
  };
}

function powerTitle(x, y) {
  return {
    type: 'text', x: x, y: y, rotation: Math.PI / 2, z: 100, silent: true,
    style: {
      text: '{n|Power ([m}{s|3}{n| s}{s|-1}{n|]}{s|2}{n|)}',
      fill: '#000', fontFamily: FONT,
      textAlign: 'center', align: 'center', textVerticalAlign: 'middle', verticalAlign: 'middle',
      rich: {
        n: { fontSize: 21, fontFamily: FONT, fill: '#000', lineHeight: 24 },
        s: { fontSize: 13, fontFamily: FONT, fill: '#000', lineHeight: 14, verticalAlign: 'top' }
      }
    }
  };
}

function arrow(x1, y1, x2, y2) {
  const dx = x2 - x1, dy = y2 - y1, L = Math.hypot(dx, dy);
  const ux = dx / L, uy = dy / L, hl = 24, hw = 10;
  const bx = x2 - ux * hl, by = y2 - uy * hl;
  return [
    { type: 'line', z: 101, silent: true,
      shape: { x1: x1, y1: y1, x2: bx + ux * 3, y2: by + uy * 3 },
      style: { stroke: C_RED, lineWidth: 4.5 } },
    { type: 'polygon', z: 101, silent: true,
      shape: { points: [[x2, y2], [bx - uy * hw, by + ux * hw], [bx + uy * hw, by - ux * hw]] },
      style: { fill: C_RED } }
  ];
}

// ---------------------------------------------------------------------------
// Chart
// ---------------------------------------------------------------------------
const chart = echarts.init(document.getElementById('chart'), null, { renderer: 'svg', width: 612, height: 990 });

const axisLine = { show: true, onZero: false, lineStyle: { color: '#000', width: 1.5 } };
const lagSim = lagData(FREQ, LAG_SIM, LAG_SIM_LO, LAG_SIM_HI);
const lagObs = lagData(LAG_OBS_FREQ, LAG_OBS, LAG_OBS_LO, LAG_OBS_HI);

const option = {
  animation: false,
  backgroundColor: '#ffffff',
  grid: PANELS.map(p => ({ left: 117, right: 8, top: p.top, height: p.height })),
  xAxis: PANELS.map((p, i) => ({
    gridIndex: i, type: 'log', logBase: 10, min: X_MIN, max: X_MAX, splitNumber: 4,
    axisLine: axisLine, axisTick: { show: false }, splitLine: { show: false },
    axisLabel: i === 3
      ? { show: true, formatter: decadeLabel, fontSize: 20, fontFamily: FONT, color: '#000', margin: 18 }
      : { show: false }
  })),
  yAxis: PANELS.map((p, i) => ({
    gridIndex: i, type: 'log', logBase: 10, min: p.yMin, max: p.yMax, splitNumber: 6,
    axisLine: axisLine, axisTick: { show: false }, splitLine: { show: false },
    axisLabel: { formatter: decadeLabel, fontSize: 20, fontFamily: FONT, color: '#000', margin: 24 }
  })),
  series: [
    annualSeries(),
    // streamflow power
    lineSeries(0, FREQ, OBS_POWER, C_BLACK, 1.2, 3),
    lineSeries(0, FREQ, SIM_POWER, C_RED, 1.2, 4),
    // rainfall power
    lineSeries(1, FREQ, RAIN_POWER, C_BLACK, 1.2, 3),
    // amplitude ratio
    guideSeries(2, RATIO_UNITY, [11, 6], '#a6a6a6', 1.8),
    lineSeries(2, FREQ, OBS_RATIO_HI, C_GREY, 1.1, 2),
    lineSeries(2, FREQ, OBS_RATIO_LO, C_GREY, 1.1, 2),
    lineSeries(2, FREQ, SIM_RATIO_HI, C_PINK, 1.1, 3),
    lineSeries(2, FREQ, SIM_RATIO_LO, C_PINK, 1.1, 3),
    lineSeries(2, FREQ, OBS_RATIO, C_BLACK, 1.2, 4),
    lineSeries(2, FREQ, SIM_RATIO, C_RED, 1.2, 5),
    // lag
    guideSeries(3, LAG_GUIDES, [8, 5], '#8c8c8c', 1.5),
    errorBarSeries(lagSim, C_PINK, 2),
    errorBarSeries(lagObs, C_GREY, 3),
    crossSeries(lagObs, C_BLACK, 4),
    crossSeries(lagSim, C_RED, 5),
    // axis frames
    frameSeries(0), frameSeries(1), frameSeries(2), frameSeries(3)
  ],
  graphic: [
    label('39019 Lambourn at Shaw', 356, 12, 24, '#000', 'center'),
    label('1 yr', 311, 36, 20, '#000', 'center'),
    label('Example of basin', 598, 48, 21, '#0000ff', 'right'),
    label('with >50% Chalk', 598, 74, 21, '#0000ff', 'right'),
    label('rock fraction', 598, 100, 21, '#0000ff', 'right'),
    label('Observed', 127, 189, 20, '#000', 'left'),
    label('streamflow', 127, 213, 20, '#000', 'left'),
    label('JULES-RAL3', 320, 219, 21, C_RED, 'left'),
    label('Basin', 127, 410, 20, '#000', 'left'),
    label('rainfall', 127, 434, 20, '#000', 'left'),
    powerTitle(25, 132),
    powerTitle(25, 354),
    label('Amplitude ratio', 25, 576, 21, '#000', 'center', Math.PI / 2),
    label('+/-95% CI', 52, 580, 21, '#000', 'center', Math.PI / 2),
    label('Lag +/-95% CI', 25, 811, 21, '#000', 'center', Math.PI / 2),
    label('(days)', 53, 818, 21, '#000', 'center', Math.PI / 2),
    label('Cycles per year', 503, 977, 21, '#000', 'center'),
    // callouts
    { type: 'rect', z: 99, silent: true, shape: { x: 160, y: 437, width: 432, height: 56 }, style: { fill: '#ffffff' } },
    label('Not enough attenuation', 374, 465, 37, C_RED, 'center'),
    { type: 'rect', z: 99, silent: true, shape: { x: 140, y: 855, width: 305, height: 67 }, style: { fill: '#ffffff' } },
    label('Not enough delay', 295, 887, 36, C_RED, 'center')
  ].concat(arrow(465, 490, 519, 547)).concat(arrow(328, 870, 383, 843))
};

chart.setOption(option);
</script>
</body>
</html>
